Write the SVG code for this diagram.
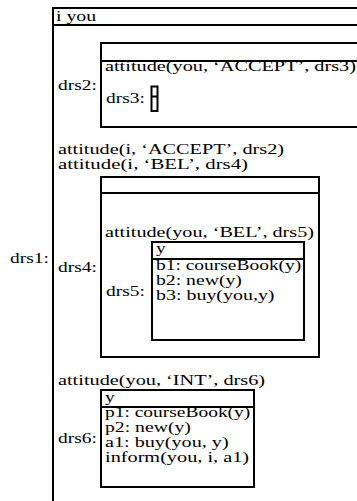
<svg xmlns="http://www.w3.org/2000/svg" width="357" height="501" viewBox="0 0 357 501">
<style>
.b{fill:none;stroke:#000;stroke-width:2}
.l{stroke:#000;stroke-width:2}
text{font-family:"Liberation Serif","Times New Roman",serif;font-size:15px;fill:#000}
</style>
<rect width="357" height="501" fill="#fff"/>
<g id="drs1">
<rect class="b" x="53" y="8" width="360" height="500"/>
<line class="l" x1="53" y1="25" x2="413" y2="25"/>
<text x="56" y="21" textLength="40.2" lengthAdjust="spacingAndGlyphs">i you</text>
<text x="10" y="262.5" textLength="38.8" lengthAdjust="spacingAndGlyphs">drs1:</text>
<text x="58" y="154" textLength="226" lengthAdjust="spacingAndGlyphs">attitude(i, ‘ACCEPT’, drs2)</text>
<text x="58" y="169" textLength="190" lengthAdjust="spacingAndGlyphs">attitude(i, ‘BEL’, drs4)</text>
<text x="58" y="385" textLength="207.1" lengthAdjust="spacingAndGlyphs">attitude(you, ‘INT’, drs6)</text>
</g>
<g id="drs2">
<text x="58" y="89.5" textLength="38.8" lengthAdjust="spacingAndGlyphs">drs2:</text>
<rect class="b" x="101" y="43" width="320" height="84"/>
<line class="l" x1="101" y1="61" x2="421" y2="61"/>
<text x="105" y="71" textLength="251" lengthAdjust="spacingAndGlyphs">attitude(you, ‘ACCEPT’, drs3)</text>
</g>
<g id="drs3">
<text x="106" y="103" textLength="38.8" lengthAdjust="spacingAndGlyphs">drs3:</text>
<rect class="b" x="151.5" y="86.5" width="6" height="24.5"/>
<line class="l" x1="151.5" y1="96.5" x2="157.5" y2="96.5"/>
</g>
<g id="drs4">
<text x="58" y="271.5" textLength="38.8" lengthAdjust="spacingAndGlyphs">drs4:</text>
<rect class="b" x="101" y="177" width="218" height="180"/>
<line class="l" x1="101" y1="193" x2="319" y2="193"/>
<text x="105" y="237" textLength="209" lengthAdjust="spacingAndGlyphs">attitude(you, ‘BEL’, drs5)</text>
</g>
<g id="drs5">
<text x="106" y="295.5" textLength="38.8" lengthAdjust="spacingAndGlyphs">drs5:</text>
<rect class="b" x="152" y="242" width="152" height="98"/>
<line class="l" x1="152" y1="259" x2="304" y2="259"/>
<text x="156" y="253" textLength="9.7" lengthAdjust="spacingAndGlyphs">y</text>
<text x="156" y="270" textLength="145.3" lengthAdjust="spacingAndGlyphs">b1: courseBook(y)</text>
<text x="156" y="285" textLength="85.9" lengthAdjust="spacingAndGlyphs">b2: new(y)</text>
<text x="156" y="300" textLength="118.5" lengthAdjust="spacingAndGlyphs">b3: buy(you,y)</text>
</g>
<g id="drs6">
<text x="58" y="443" textLength="38.8" lengthAdjust="spacingAndGlyphs">drs6:</text>
<rect class="b" x="101" y="390" width="153" height="97"/>
<line class="l" x1="101" y1="407" x2="254" y2="407"/>
<text x="105" y="402" textLength="9.7" lengthAdjust="spacingAndGlyphs">y</text>
<text x="105" y="417" textLength="145.3" lengthAdjust="spacingAndGlyphs">p1: courseBook(y)</text>
<text x="105" y="432" textLength="85.9" lengthAdjust="spacingAndGlyphs">p2: new(y)</text>
<text x="105" y="447" textLength="123.6" lengthAdjust="spacingAndGlyphs">a1: buy(you, y)</text>
<text x="105" y="462" textLength="144" lengthAdjust="spacingAndGlyphs">inform(you, i, a1)</text>
</g>
</svg>
